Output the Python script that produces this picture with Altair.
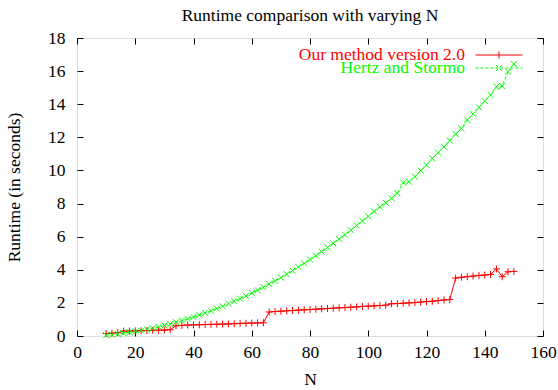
import altair as alt
import pandas as pd

# ---------------- data ----------------
N_values = [10, 12, 14, 16, 18, 20, 22, 24, 26, 28, 30, 32, 34, 36, 38, 40, 42, 44, 46, 48,
            50, 52, 54, 56, 58, 60, 62, 64, 66, 68, 70, 72, 74, 76, 78, 80, 82, 84, 86, 88,
            90, 92, 94, 96, 98, 100, 102, 104, 106, 108, 110, 112, 114, 116, 118, 120, 122,
            124, 126, 128, 130, 132, 134, 136, 138, 140, 142, 144, 146, 148, 150]

ours = [0.15, 0.17, 0.20, 0.30, 0.30, 0.31, 0.32, 0.33, 0.34, 0.35, 0.36, 0.38,
        0.62, 0.64, 0.66, 0.67, 0.68, 0.69, 0.70, 0.71, 0.72, 0.73, 0.74, 0.76, 0.77, 0.78, 0.79, 0.80,
        1.45, 1.48, 1.50, 1.52, 1.54, 1.56, 1.58, 1.60, 1.62, 1.64, 1.66, 1.68, 1.70, 1.72, 1.74, 1.76,
        1.78, 1.80, 1.82, 1.84, 1.86, 1.95, 1.96, 1.98, 2.00, 2.02, 2.05, 2.08, 2.10, 2.14, 2.18, 2.20,
        3.50, 3.55, 3.58, 3.62, 3.66, 3.68, 3.72, 4.05, 3.58, 3.88, 3.90]

hertz = [0.05, 0.08, 0.12, 0.17, 0.22, 0.27, 0.33, 0.40, 0.47, 0.55, 0.64, 0.73, 0.83, 0.93, 1.04,
         1.15, 1.27, 1.39, 1.52, 1.66, 1.80, 1.95, 2.10, 2.26, 2.42, 2.60, 2.77, 2.95, 3.14, 3.33,
         3.53, 3.74, 3.95, 4.17, 4.39, 4.62, 4.86, 5.10, 5.35, 5.60, 5.86, 6.12, 6.39, 6.67, 6.95,
         7.23, 7.52, 7.80, 8.05, 8.32, 8.62, 9.26, 9.32, 9.62, 9.99, 10.33, 10.73, 11.07, 11.43,
         11.80, 12.20, 12.54, 13.05, 13.41, 13.81, 14.19, 14.56, 15.06, 15.10, 15.97, 16.43]

series_names = ["Our method version 2.0", "Hertz and Stormo"]
series_colors = ["#ff0000", "#00ff00"]
x_ticks = [0, 20, 40, 60, 80, 100, 120, 140, 160]
y_ticks = [0, 2, 4, 6, 8, 10, 12, 14, 16, 18]

rows = []
for name, vals in zip(series_names, [ours, hertz]):
    for n, v in zip(N_values, vals):
        rows.append({"N": n, "t": v, "series": name})
df = pd.DataFrame(rows)

# ---------------- style ----------------
FONT = "'Liberation Serif', 'Times New Roman', Times, 'DejaVu Serif', serif"
FS = 17.5
PLUS = "M-1,0H1M0,-1V1"
CROSS = "M-1,-1L1,1M-1,1L1,-1"
LEG_PLUS = "M-1,0H1M0,-0.15V0.15"
LEG_CROSS = "M-1,0H1M-0.13,-0.13L0.13,0.13M-0.13,0.13L0.13,-0.13"
RED, GREEN = series_colors

xs = alt.Scale(domain=[0, 160], nice=False, zero=False)
ys = alt.Scale(domain=[0, 18], nice=False, zero=False)

leg_common = dict(title=None, orient="none", padding=0, symbolSize=2209, symbolStrokeWidth=1,
                  symbolFillColor="transparent", labelFont=FONT, labelFontSize=FS, labelAlign="right",
                  labelOffset={"expr": "-58"}, labelLimit=400, legendX=398)

legend_red = alt.Legend(legendY=-7, symbolType=LEG_PLUS, symbolStrokeColor=RED, labelColor=RED,
                        **leg_common)
legend_green = alt.Legend(legendY=6, symbolType=LEG_CROSS, symbolStrokeColor=GREEN, labelColor=GREEN,
                          symbolDash=[3, 2], **leg_common)

common_axis = dict(grid=False, domain=False, tickSize=6, offset=-6, tickColor="black",
                   labelFont=FONT, labelFontSize=FS, labelColor="black",
                   titleFont=FONT, titleFontSize=FS, titleFontWeight="normal", titleColor="black")

x_axis = alt.Axis(orient="bottom", values=x_ticks, title="N", labelPadding=7, titlePadding=10,
                  labelFlush=False, **common_axis)
y_axis = alt.Axis(orient="left", values=y_ticks, title="Runtime (in seconds)", labelPadding=12,
                  titlePadding=24, **common_axis)
x_axis_top = alt.Axis(orient="top", values=x_ticks, labels=False, title=None, grid=False, domain=False,
                      tickSize=6, offset=-6, tickColor="black")
y_axis_right = alt.Axis(orient="right", values=y_ticks, labels=False, title=None, grid=False, domain=False,
                        tickSize=6, offset=-6, tickColor="black")

red_df = df[df["series"] == series_names[0]]
green_df = df[df["series"] == series_names[1]]

red_line = alt.Chart(red_df).mark_line(strokeWidth=1, color=RED).encode(
    x=alt.X("N:Q", scale=xs, axis=x_axis),
    y=alt.Y("t:Q", scale=ys, axis=y_axis),
    stroke=alt.Stroke("series:N", scale=alt.Scale(domain=[series_names[0]], range=[RED]),
                      legend=legend_red),
)

green_line = alt.Chart(green_df).mark_line(strokeWidth=1, color=GREEN).encode(
    x=alt.X("N:Q", scale=xs, axis=None),
    y=alt.Y("t:Q", scale=ys, axis=None),
    strokeDash=alt.StrokeDash("series:N", scale=alt.Scale(domain=[series_names[1]], range=[[3, 2]]),
                              legend=legend_green),
)

red_pts = alt.Chart(red_df).mark_point(filled=False, strokeWidth=1, size=49, opacity=1,
                                       shape=PLUS, color=RED).encode(
    x=alt.X("N:Q", scale=xs, axis=x_axis_top),
    y=alt.Y("t:Q", scale=ys, axis=y_axis_right),
)

green_pts = alt.Chart(green_df).mark_point(filled=False, strokeWidth=1, size=36, opacity=1,
                                          shape=CROSS, color=GREEN).encode(
    x=alt.X("N:Q", scale=xs, axis=None),
    y=alt.Y("t:Q", scale=ys, axis=None),
)

chart = alt.layer(red_line, green_line, red_pts, green_pts).resolve_axis(
    x="independent", y="independent"
).properties(
    width=466,
    height=298,
    title=alt.TitleParams("Runtime comparison with varying N", font=FONT, fontSize=FS,
                          fontWeight="normal", color="black", anchor="middle", offset=5),
    autosize=alt.AutoSizeParams(type="none"),
    padding={"left": 77, "top": 38, "right": 15, "bottom": 54},
).configure_view(stroke="black", strokeWidth=1).configure(background="white")

chart.save("out.html", embed_options={"renderer": "svg", "actions": False})
